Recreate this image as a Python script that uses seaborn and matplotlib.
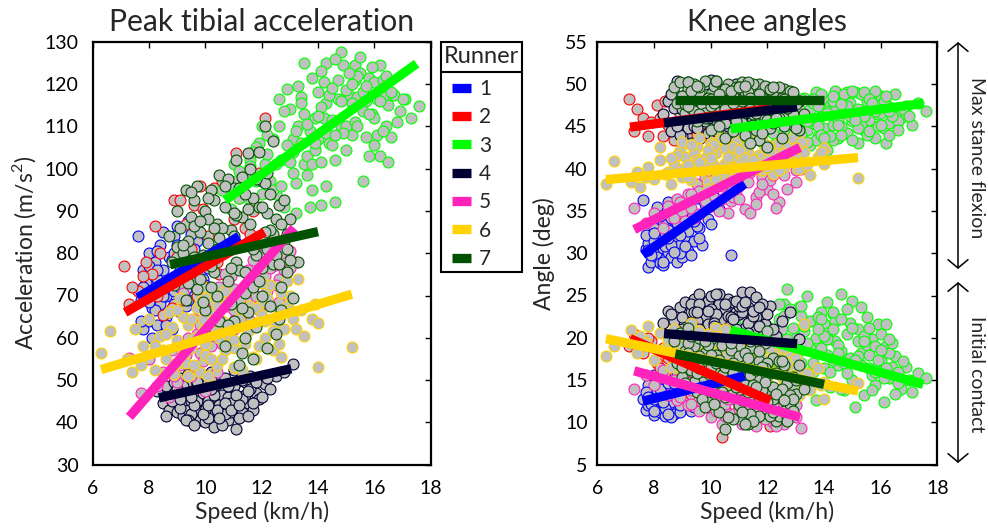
import matplotlib
matplotlib.use("Agg")
import matplotlib.pyplot as plt
import pandas as pd
import seaborn as sns
from matplotlib.lines import Line2D
from matplotlib.patches import Rectangle, FancyArrowPatch, ArrowStyle

# ---- runners ----
runner_ids = [1, 2, 3, 4, 5, 6, 7]
runner_colors = ["#0000ff", "#ff0000", "#00ff00", "#000033", "#ff22bb", "#ffd200", "#005200"]

# ---- strides: speed (km/h), peak tibial acceleration (m/s^2),
#      max stance knee flexion (deg), knee angle at initial contact (deg) ----
speed_1 = [7.6, 7.7, 7.8, 7.8, 7.9, 8.0, 8.0, 8.1, 8.1, 8.2, 8.2, 8.3, 8.3, 8.4, 8.4, 8.5, 8.5, 8.6,
           8.6, 8.7, 8.7, 8.8, 8.9, 8.9, 9.0, 9.1, 9.1, 9.2, 9.3, 9.4, 9.5, 9.6, 9.7, 9.9, 10.3, 10.7,
           7.7, 7.9, 8.0, 8.2, 8.3, 8.4, 8.5, 8.6, 8.8, 8.9, 9.0, 9.2, 9.3, 9.5, 9.8, 10.1,
           7.8, 8.0, 8.3, 8.5, 8.7, 8.9, 9.1, 9.4, 9.6, 10.0]
pta_1 = [84.0, 69.0, 76.0, 62.0, 73.0, 80.0, 64.0, 67.0, 60.0, 78.0, 71.0, 63.0, 74.0, 82.0, 68.0, 61.0, 76.0, 70.0,
         65.0, 79.0, 73.0, 62.0, 84.0, 68.0, 86.5, 75.0, 66.0, 80.0, 71.0, 87.5, 77.0, 70.0, 83.0, 74.0, 79.0, 82.0,
         64.0, 70.5, 77.0, 66.5, 80.5, 72.5, 85.0, 63.0, 78.5, 71.0, 82.0, 74.5, 67.5, 84.5, 78.0, 76.5,
         72.0, 68.5, 76.0, 70.0, 66.0, 80.0, 72.0, 69.0, 81.0, 72.5]
kmax_1 = [36.3, 30.5, 28.4, 31.2, 29.0, 33.0, 30.0, 35.5, 29.5, 31.8, 28.9, 33.8, 30.6, 29.3, 32.4, 36.0, 30.2, 34.2,
          29.6, 31.6, 33.0, 29.0, 35.0, 31.0, 29.5, 33.5, 32.0, 30.3, 34.6, 31.5, 36.5, 33.0, 31.0, 34.0, 35.2, 29.8,
          32.2, 29.8, 31.4, 34.4, 28.6, 30.8, 32.8, 31.0, 33.6, 30.0, 34.8, 32.6, 29.8, 33.2, 35.8, 36.6,
          30.4, 32.4, 29.0, 31.8, 30.2, 32.2, 30.8, 33.8, 31.8, 33.4]
kic_1 = [12.8, 11.5, 14.4, 12.0, 13.2, 10.9, 15.6, 12.6, 13.8, 11.2, 14.9, 12.3, 13.5, 10.8, 15.2, 12.9, 11.6, 14.0,
         12.4, 13.1, 11.0, 15.6, 12.7, 14.3, 11.8, 13.6, 15.9, 12.2, 14.7, 13.0, 16.2, 12.5, 14.5, 13.3, 15.0, 14.2,
         13.6, 12.2, 11.4, 13.9, 15.4, 11.7, 14.6, 10.6, 13.4, 11.2, 14.8, 13.1, 11.3, 12.0, 15.4, 13.8,
         13.0, 12.8, 12.4, 11.0, 14.6, 12.0, 14.0, 11.8, 13.6, 12.4]

speed_2 = [7.1, 7.3, 7.6, 7.9, 8.1, 8.2, 8.3, 8.5, 8.7, 8.9, 9.0, 9.1, 9.2, 9.4, 9.5,
           9.6, 9.7, 9.8, 10.0, 10.1, 10.3, 10.4, 10.6, 10.8, 11.0, 11.1, 11.4, 11.7, 12.0, 12.1,
           7.4, 7.8, 8.4, 8.8, 9.3, 9.9, 10.5, 11.2, 11.6, 11.9]
pta_2 = [77.0, 68.0, 71.0, 78.0, 75.0, 86.5, 70.0, 65.5, 73.0, 92.5, 79.0, 92.5, 69.0, 74.0, 81.0,
         91.5, 70.0, 95.8, 72.0, 84.0, 95.5, 78.0, 97.0, 82.0, 88.0, 103.7, 86.0, 90.0, 80.0, 112.0,
         72.0, 74.5, 80.0, 67.0, 87.0, 90.5, 75.0, 93.0, 84.5, 99.0]
kmax_2 = [48.2, 44.5, 46.0, 45.5, 47.5, 46.0, 43.8, 45.2, 43.4, 46.5, 44.6, 47.2, 43.6, 45.8, 44.0,
          46.8, 44.4, 45.4, 43.2, 46.2, 45.0, 47.6, 44.8, 46.0, 45.6, 47.8, 46.4, 47.0, 45.8, 48.0,
          47.0, 43.8, 48.0, 45.0, 46.8, 44.2, 46.4, 44.6, 48.2, 47.2]
kic_2 = [19.0, 20.5, 18.2, 19.6, 17.0, 16.4, 18.8, 17.6, 17.5, 15.2, 18.0, 16.0, 14.8, 17.2, 15.6,
         13.8, 16.4, 15.0, 12.6, 16.2, 14.0, 8.3, 13.2, 15.0, 11.8, 13.6, 12.4, 11.0, 13.0, 9.6,
         18.6, 20.0, 16.0, 18.6, 13.4, 17.4, 11.6, 15.8, 13.8, 11.4]

speed_3 = [10.6, 10.9, 11.0, 11.2, 11.3, 11.5, 11.6, 11.8, 11.9, 12.0,
           12.1, 12.3, 12.4, 12.5, 12.6, 12.7, 12.8, 12.9, 13.0, 13.1,
           13.2, 13.3, 13.4, 13.5, 13.5, 13.6, 13.7, 13.8, 13.9, 14.0,
           14.0, 14.1, 14.2, 14.3, 14.4, 14.5, 14.6, 14.7, 14.8, 14.9,
           15.0, 15.1, 15.2, 15.3, 15.4, 15.5, 15.6, 15.7, 15.8, 15.9,
           16.0, 16.1, 16.2, 16.3, 16.5, 16.7, 16.9, 17.1, 17.3, 17.6,
           13.5, 14.8, 15.5, 15.3, 14.3, 16.2, 16.5, 13.2, 14.1, 14.6,
           13.7, 12.4, 11.2, 11.8,
           11.4, 11.7, 12.2, 12.6, 12.9, 13.0, 13.2, 13.4, 13.6, 13.8,
           13.9, 14.1, 14.2, 14.4, 14.5, 14.7, 14.9, 15.0, 15.2, 15.3,
           15.4, 15.6, 15.7, 15.9, 16.0, 16.1, 16.3, 16.4, 16.6, 16.8,
           17.0, 14.3, 13.1, 15.8, 12.0, 14.6,
           11.1, 11.6, 12.2, 12.5, 12.8, 13.1, 13.3, 13.6, 13.9, 14.1,
           14.3, 14.5, 14.8, 15.0, 15.2, 15.4, 15.6, 15.8, 16.0, 16.2,
           16.4, 16.6, 12.7, 13.4, 14.0, 14.6, 15.1, 15.7, 16.3, 13.8]
pta_3 = [95.0, 90.5, 101.0, 93.0, 99.0, 93.0, 102.0, 97.0, 106.0, 94.0,
         101.0, 97.0, 107.0, 94.0, 116.5, 102.0, 91.0, 118.9, 101.5, 107.0,
         96.5, 110.0, 106.0, 101.0, 113.0, 103.0, 109.0, 101.0, 112.0, 118.0,
         107.0, 101.5, 112.0, 115.5, 106.0, 111.5, 102.0, 116.5, 110.0, 124.5,
         110.0, 117.5, 108.0, 124.5, 117.0, 122.5, 97.0, 116.0, 121.5, 113.0,
         120.5, 108.0, 124.5, 117.0, 115.0, 117.5, 113.7, 116.5, 112.0, 114.7,
         125.0, 127.5, 126.3, 121.0, 125.0, 103.0, 101.5, 89.5, 91.5, 92.0,
         91.0, 95.0, 99.5, 105.0,
         98.0, 104.0, 103.5, 110.0, 105.5, 114.0, 109.0, 117.0, 98.5, 121.5,
         104.5, 114.5, 120.5, 117.5, 105.5, 121.0, 108.5, 118.5, 115.5, 111.0,
         122.0, 113.5, 107.5, 124.0, 112.0, 116.5, 121.0, 110.0, 118.0, 111.0,
         116.5, 96.0, 99.0, 103.0, 110.0, 126.0,
         97.0, 100.5, 108.0, 101.0, 113.5, 104.0, 119.5, 110.5, 106.0, 123.0,
         108.5, 119.0, 116.0, 104.5, 120.0, 110.0, 118.0, 113.0, 105.5, 116.0,
         122.0, 107.5, 96.0, 115.5, 112.5, 108.0, 122.5, 119.5, 109.0, 95.0]
kmax_3 = [44.2, 46.0, 43.6, 45.4, 47.0, 44.0, 45.8, 43.2, 46.6, 44.8,
          47.6, 43.0, 45.6, 48.0, 44.4, 46.4, 42.6, 47.2, 45.0, 43.6,
          46.8, 48.4, 44.6, 42.8, 47.0, 45.4, 49.0, 43.8, 46.2, 48.2,
          44.8, 42.2, 47.4, 45.2, 49.2, 43.6, 46.6, 48.6, 44.2, 47.8,
          45.6, 49.0, 43.0, 46.8, 44.6, 48.0, 45.8, 47.2, 43.6, 46.4,
          48.6, 44.8, 47.6, 45.4, 48.8, 46.0, 47.4, 45.2, 47.8, 46.8,
          45.8, 49.0, 44.0, 48.8, 43.4, 43.0, 46.4, 44.0, 46.8, 45.0,
          43.4, 46.8, 43.8, 44.6,
          46.4, 44.6, 45.4, 47.4, 44.0, 46.0, 48.2, 43.2, 47.8, 45.0,
          48.8, 46.4, 43.8, 47.0, 45.8, 48.8, 46.2, 43.4, 47.0, 45.2,
          49.0, 44.4, 47.6, 45.0, 46.6, 48.0, 44.0, 47.2, 45.6, 47.0,
          46.2, 48.0, 42.6, 49.2, 46.2, 44.0,
          45.0, 46.8, 44.2, 45.8, 47.8, 44.6, 46.2, 48.2, 44.0, 46.6,
          48.6, 45.2, 47.4, 49.2, 44.8, 46.2, 48.2, 46.8, 45.2, 48.6,
          46.2, 44.6, 47.0, 45.6, 43.6, 47.6, 45.8, 47.8, 46.8, 47.4]
kic_3 = [21.8, 19.0, 22.4, 18.2, 20.6, 23.0, 17.4, 21.0, 19.2, 23.2,
         16.8, 20.4, 22.2, 18.0, 24.0, 25.8, 16.2, 21.2, 19.4, 23.6,
         17.0, 20.8, 25.0, 14.6, 22.0, 18.6, 12.6, 20.2, 23.0, 16.4,
         21.6, 18.0, 14.2, 22.8, 19.6, 16.8, 25.2, 13.8, 20.4, 17.6,
         24.4, 11.8, 21.0, 18.2, 13.2, 22.4, 16.4, 19.8, 14.4, 21.6,
         17.2, 12.4, 19.0, 15.2, 17.8, 14.0, 16.6, 13.6, 15.8, 15.2,
         18.8, 23.4, 19.2, 23.6, 17.4, 21.6, 13.4, 22.6, 24.2, 18.4,
         20.0, 24.0, 22.0, 18.6,
         19.8, 21.8, 18.8, 22.6, 17.6, 20.0, 23.8, 19.4, 16.0, 22.4,
         18.8, 20.6, 16.0, 22.0, 19.2, 17.0, 21.8, 15.0, 19.6, 16.8,
         20.2, 18.0, 15.6, 17.4, 20.4, 15.2, 18.2, 16.6, 14.6, 17.2,
         15.0, 21.0, 18.6, 19.0, 21.4, 14.0,
         20.6, 22.8, 17.2, 21.0, 23.4, 18.4, 21.4, 17.0, 22.2, 19.8,
         23.0, 18.2, 15.8, 21.2, 17.8, 19.6, 21.2, 16.0, 18.6, 16.4,
         19.4, 16.0, 19.8, 15.8, 20.2, 22.2, 17.4, 13.8, 19.8, 21.0]

speed_4 = [8.3, 8.5, 8.6, 8.7, 8.8, 8.9, 9.0, 9.0, 9.1, 9.2,
           9.2, 9.3, 9.4, 9.4, 9.5, 9.6, 9.6, 9.7, 9.8, 9.8,
           9.9, 10.0, 10.0, 10.1, 10.2, 10.2, 10.3, 10.4, 10.4, 10.5,
           10.6, 10.6, 10.7, 10.8, 10.9, 11.0, 11.0, 11.1, 11.2, 11.3,
           11.4, 11.5, 11.6, 11.8, 11.9, 12.1, 12.3, 12.5, 12.8, 13.1,
           8.6, 8.9, 9.1, 9.3, 9.5, 9.7, 9.9, 10.0, 10.1, 10.3,
           10.5, 10.6, 10.8, 10.9, 11.1, 11.2, 11.4, 11.6, 11.7, 12.0,
           9.2, 9.6, 10.2, 10.7, 11.0, 11.3, 9.4, 10.4, 10.9, 11.5,
           9.8, 10.1, 12.2, 11.8,
           8.8, 9.0, 9.3, 9.5, 9.7, 9.9, 10.1, 10.3, 10.5, 10.7,
           10.9, 11.1, 11.3, 11.5, 11.7, 9.6, 10.2, 10.8, 11.2, 9.1]
pta_4 = [47.5, 44.5, 48.5, 43.0, 46.0, 49.5, 42.5, 45.5, 50.5, 44.0,
         41.5, 47.0, 43.0, 51.5, 45.0, 41.0, 48.0, 43.5, 46.5, 40.5,
         50.0, 40.0, 44.5, 47.5, 42.0, 52.0, 39.0, 45.5, 49.0, 41.5,
         46.5, 43.5, 50.5, 40.5, 47.5, 44.0, 52.5, 38.5, 46.0, 42.5,
         49.5, 44.5, 51.0, 47.0, 45.5, 49.0, 48.0, 51.0, 52.0, 53.8,
         41.5, 47.0, 43.5, 49.0, 42.0, 45.0, 47.0, 43.0, 41.0, 48.5,
         44.0, 39.5, 46.0, 42.5, 49.5, 41.0, 46.5, 48.0, 43.0, 46.0,
         48.5, 44.0, 50.0, 42.0, 48.5, 45.5, 40.5, 43.0, 44.5, 41.5,
         51.0, 45.0, 50.5, 49.5,
         45.0, 48.0, 40.5, 46.0, 49.5, 42.0, 44.0, 46.5, 41.0, 44.5,
         43.0, 46.5, 50.0, 47.5, 44.5, 39.5, 48.0, 48.5, 44.0, 45.5]
kmax_4 = [46.5, 48.0, 44.5, 47.2, 50.3, 45.5, 48.5, 43.8, 46.8, 49.2,
          44.8, 47.5, 45.0, 49.8, 46.2, 43.5, 48.2, 45.8, 50.0, 47.0,
          44.2, 50.5, 46.0, 48.6, 42.8, 47.4, 45.2, 49.4, 43.5, 46.6,
          48.0, 44.6, 47.8, 45.6, 49.0, 46.8, 44.0, 48.4, 46.0, 47.6,
          45.4, 49.4, 47.0, 48.2, 46.2, 47.8, 48.8, 46.4, 47.5, 48.0,
          48.8, 44.0, 47.2, 43.0, 49.6, 46.4, 48.4, 44.8, 50.0, 46.2,
          48.8, 45.0, 43.8, 47.4, 45.6, 49.8, 44.6, 46.0, 48.6, 44.8,
          50.2, 47.6, 45.8, 43.0, 49.4, 44.4, 46.8, 48.2, 50.0, 47.8,
          45.6, 43.6, 47.0, 45.2,
          45.0, 47.0, 49.0, 44.8, 47.8, 46.0, 49.2, 47.6, 45.4, 48.6,
          44.2, 46.4, 49.0, 45.2, 46.6, 46.8, 44.4, 46.2, 47.0, 48.0]
kic_4 = [21.8, 23.2, 20.0, 22.0, 19.2, 23.6, 21.0, 17.8, 24.2, 22.4,
         19.6, 23.0, 20.8, 24.6, 18.4, 25.2, 21.6, 23.8, 19.8, 22.6,
         24.4, 25.0, 20.4, 23.2, 21.4, 17.6, 24.0, 22.2, 19.0, 23.4,
         20.6, 24.6, 21.8, 18.6, 23.0, 20.2, 22.8, 25.4, 21.2, 23.6,
         25.4, 20.8, 22.4, 19.4, 21.6, 23.8, 20.2, 22.0, 23.0, 19.8,
         22.8, 20.4, 18.6, 24.0, 22.0, 20.0, 21.6, 23.4, 19.2, 25.2,
         21.0, 22.6, 24.2, 20.4, 23.0, 19.4, 22.0, 24.8, 21.4, 22.8,
         21.2, 24.0, 22.8, 20.0, 23.8, 21.8, 23.0, 20.2, 24.4, 22.6,
         17.8, 21.8, 21.0, 24.0,
         20.8, 22.4, 21.8, 23.0, 19.6, 23.2, 21.4, 20.6, 24.0, 22.4,
         21.0, 23.8, 20.6, 23.2, 23.6, 21.0, 25.2, 22.2, 24.2, 19.4]

speed_5 = [7.3, 7.7, 8.0, 8.3, 8.5, 8.7, 8.8, 9.0, 9.1, 9.2, 9.3, 9.5, 9.6, 9.7, 9.8, 10.0, 10.1, 10.2,
           10.4, 10.5, 10.6, 10.8, 10.9, 11.0, 11.2, 11.3, 11.5, 11.6, 11.8, 12.0, 12.2, 12.4, 12.6, 12.8, 13.0, 13.2,
           8.9, 9.4, 9.6, 9.9, 10.3, 10.5, 10.7, 11.0, 11.1, 11.4, 11.7, 11.9, 12.1, 12.3, 12.5, 12.7,
           10.0, 10.8, 11.6, 12.2,
           9.3, 9.8, 10.2, 10.6, 11.0, 11.4, 11.8, 12.2, 12.6, 13.0, 10.4, 11.6]
pta_5 = [55.3, 47.0, 55.0, 48.5, 52.0, 46.0, 57.0, 49.5, 53.5, 70.5, 58.0, 51.0, 73.0, 61.0, 56.5, 66.0, 59.0, 70.0,
         63.5, 72.0, 58.5, 67.5, 74.5, 62.0, 70.5, 66.0, 76.0, 69.0, 73.5, 79.5, 71.0, 77.0, 74.0, 76.0, 80.5, 78.0,
         51.0, 60.0, 64.5, 54.5, 68.5, 62.0, 75.0, 71.5, 65.0, 72.0, 78.5, 66.5, 74.5, 76.5, 72.5, 80.0,
         47.5, 60.5, 62.5, 69.0,
         56.0, 63.0, 58.0, 69.0, 66.5, 75.5, 70.0, 78.0, 68.5, 76.5, 52.0, 64.0]
kmax_5 = [35.3, 33.6, 34.8, 33.0, 35.6, 34.2, 36.4, 35.0, 33.8, 37.0, 35.4, 38.2, 34.6, 36.8, 39.0, 35.6, 37.8, 40.0,
          36.4, 38.6, 34.8, 39.4, 37.0, 41.0, 35.2, 38.4, 40.2, 36.6, 39.0, 37.6, 40.6, 36.0, 39.2, 41.4, 38.4, 40.0,
          36.0, 34.2, 37.4, 38.4, 35.0, 40.6, 36.2, 38.0, 39.8, 34.8, 37.2, 40.8, 38.6, 35.4, 41.6, 37.6,
          39.6, 36.6, 41.2, 39.2,
          37.0, 36.2, 39.0, 37.6, 36.4, 39.6, 38.2, 37.0, 40.8, 39.8, 38.0, 35.8]
kic_5 = [13.9, 15.6, 14.4, 16.2, 13.2, 15.0, 12.6, 14.6, 16.0, 12.0, 13.8, 15.2, 11.4, 13.6, 14.8, 10.6, 12.8, 14.2,
         9.8, 12.2, 13.8, 11.0, 12.6, 14.0, 10.2, 11.8, 13.0, 9.6, 11.4, 12.8, 10.0, 11.6, 9.8, 12.2, 10.6, 9.3,
         13.0, 14.2, 12.6, 11.8, 15.0, 10.8, 13.4, 11.6, 9.8, 14.4, 12.4, 10.4, 13.6, 9.6, 12.4, 10.6,
         13.2, 14.6, 11.2, 12.0,
         12.2, 13.4, 11.4, 12.8, 10.4, 11.0, 13.4, 11.0, 10.8, 12.0, 14.0, 10.6]

speed_6 = [6.3, 6.6, 7.2, 7.4, 7.5, 7.8, 8.0, 8.2, 8.4, 8.6,
           8.7, 8.9, 9.0, 9.1, 9.3, 9.4, 9.5, 9.7, 9.8, 9.9,
           10.0, 10.1, 10.2, 10.4, 10.5, 10.6, 10.7, 10.9, 11.0, 11.1,
           11.3, 11.4, 11.5, 11.7, 11.8, 12.0, 12.1, 12.3, 12.4, 12.6,
           12.8, 13.0, 13.1, 13.3, 13.5, 13.8, 14.0, 14.0, 15.2, 12.9,
           8.5, 8.8, 9.0, 9.2, 9.4, 9.6, 9.8, 10.0, 10.2, 10.3,
           10.5, 10.8, 11.0, 11.2, 11.3, 11.6, 11.9, 12.2, 12.5, 12.7,
           12.9, 13.2, 9.5, 10.1, 10.7, 11.4, 12.0, 12.6, 13.4, 8.2,
           7.7, 9.9, 11.8, 13.9,
           8.6, 9.0, 9.3, 9.6, 9.9, 10.2, 10.4, 10.6, 10.9, 11.2,
           11.5, 11.8, 12.1, 12.4, 12.7, 13.0, 9.2, 10.0, 11.0, 12.0]
pta_6 = [56.5, 61.5, 55.0, 52.0, 62.0, 58.0, 64.5, 52.5, 60.5, 55.0,
         66.0, 51.5, 59.5, 69.5, 54.0, 63.0, 57.5, 67.0, 52.0, 61.5,
         56.0, 65.5, 70.5, 53.5, 60.0, 64.0, 57.0, 68.0, 53.0, 62.5,
         66.5, 58.5, 71.5, 55.5, 63.5, 68.5, 60.0, 72.5, 57.0, 66.0,
         62.0, 70.0, 64.5, 74.0, 60.5, 64.5, 63.5, 53.2, 57.8, 73.5,
         57.0, 62.5, 54.0, 65.0, 51.0, 60.0, 68.5, 58.5, 55.0, 66.0,
         70.0, 61.0, 57.5, 64.5, 52.5, 67.5, 58.0, 69.5, 63.5, 55.5,
         67.5, 62.0, 64.5, 51.0, 71.0, 60.0, 73.0, 58.5, 66.5, 58.0,
         53.5, 72.0, 55.0, 68.0,
         61.0, 66.5, 58.0, 53.5, 64.5, 61.5, 67.5, 55.0, 63.5, 69.0,
         61.5, 67.0, 64.0, 61.5, 70.5, 66.5, 56.5, 69.5, 59.5, 65.5]
kmax_6 = [38.2, 40.9, 38.4, 39.6, 37.8, 40.2, 38.8, 41.0, 39.4, 38.2,
          40.6, 42.2, 39.0, 41.4, 38.6, 40.0, 42.6, 39.8, 41.2, 38.4,
          43.0, 40.4, 41.8, 39.2, 42.4, 40.8, 38.8, 43.2, 41.0, 39.6,
          42.0, 40.4, 43.4, 41.6, 39.8, 42.8, 40.6, 41.8, 43.0, 40.2,
          42.2, 41.2, 40.0, 42.0, 39.2, 41.4, 40.6, 42.4, 38.9, 43.6,
          39.6, 41.6, 43.2, 39.0, 41.8, 43.6, 40.4, 42.0, 38.8, 43.4,
          40.6, 42.6, 39.4, 41.2, 43.8, 40.0, 42.4, 39.4, 41.0, 42.6,
          40.8, 43.2, 41.0, 42.8, 41.4, 43.0, 40.2, 41.8, 40.4, 42.6,
          39.0, 37.6, 41.4, 42.0,
          41.2, 40.0, 42.8, 40.8, 42.2, 39.8, 43.6, 41.4, 40.0, 42.6,
          41.0, 43.4, 42.0, 39.8, 40.8, 42.4, 40.4, 41.2, 42.2, 41.0]
kic_6 = [17.8, 19.0, 20.9, 18.2, 20.2, 21.4, 17.4, 20.6, 18.8, 16.6,
         21.0, 19.4, 15.8, 18.0, 21.8, 16.8, 19.6, 14.8, 18.4, 20.4,
         16.0, 17.6, 21.2, 15.4, 19.0, 16.4, 18.8, 14.6, 20.0, 17.0,
         15.6, 18.6, 13.8, 16.6, 19.2, 15.0, 17.4, 13.6, 16.2, 14.4,
         18.0, 15.2, 13.2, 21.6, 13.8, 16.4, 14.8, 12.8, 14.6, 16.8,
         19.8, 17.2, 20.6, 18.6, 16.2, 20.8, 17.6, 19.2, 15.0, 18.2,
         21.0, 17.0, 15.2, 19.8, 17.6, 14.2, 16.8, 18.4, 15.4, 17.0,
         14.2, 16.0, 13.6, 19.6, 14.4, 20.0, 16.4, 18.8, 15.8, 18.4,
         19.4, 13.6, 17.6, 14.4,
         18.2, 19.2, 17.0, 19.4, 16.6, 20.2, 17.2, 18.0, 16.2, 18.6,
         16.0, 15.8, 18.8, 17.4, 15.0, 17.6, 20.4, 17.8, 19.0, 16.2]

speed_7 = [8.7, 8.8, 8.9, 9.0, 9.1, 9.2, 9.3, 9.4, 9.5, 9.5,
           9.6, 9.7, 9.8, 9.9, 10.0, 10.0, 10.1, 10.2, 10.3, 10.4,
           10.4, 10.5, 10.6, 10.7, 10.7, 10.8, 10.9, 11.0, 11.0, 11.1,
           11.2, 11.3, 11.3, 11.4, 11.5, 11.6, 11.7, 11.7, 11.8, 11.9,
           12.0, 12.1, 12.2, 12.2, 12.3, 12.4, 12.5, 12.6, 12.7, 12.8,
           12.9, 13.0, 13.1, 13.3, 12.0, 11.4,
           9.0, 9.2, 9.4, 9.6, 9.7, 9.9, 10.1, 10.2, 10.3, 10.5,
           10.6, 10.8, 10.9, 11.1, 11.2, 11.4, 11.5, 11.6, 11.8, 11.9,
           12.0, 12.1, 12.3, 12.4, 12.5, 12.6, 12.8, 12.9, 13.0, 9.3,
           9.8, 10.4, 11.0, 11.7, 12.2, 12.7, 10.0, 11.3, 12.4, 9.1,
           9.2, 9.5, 9.8, 10.0, 10.2, 10.5, 10.7, 10.9, 11.1, 11.3,
           11.5, 11.7, 11.9, 12.1, 12.3, 12.5, 12.7, 12.9, 11.0, 11.6,
           12.0, 10.3, 10.8, 11.2, 11.8, 12.6, 9.6, 10.1, 11.4, 12.2]
pta_7 = [84.0, 78.0, 72.5, 81.5, 86.0, 75.0, 69.0, 83.0, 88.5, 77.5,
         92.5, 71.5, 85.0, 79.5, 90.0, 66.5, 82.5, 95.0, 75.5, 87.0,
         70.0, 98.5, 80.5, 58.0, 91.0, 73.5, 85.5, 64.0, 95.5, 78.0,
         53.5, 98.0, 88.5, 70.5, 103.8, 82.0, 55.0, 93.0, 62.5, 104.0,
         76.5, 110.0, 57.5, 89.5, 67.5, 84.5, 61.0, 91.5, 72.0, 83.0,
         75.5, 88.0, 69.5, 78.0, 97.0, 60.0,
         90.0, 80.0, 73.0, 86.5, 96.0, 68.5, 88.0, 77.0, 92.5, 64.0,
         86.0, 97.5, 68.0, 89.0, 76.0, 94.0, 66.0, 100.0, 79.5, 91.0,
         70.0, 96.5, 85.5, 77.5, 88.0, 64.5, 92.5, 81.0, 78.5, 95.0,
         74.0, 81.0, 84.0, 72.0, 99.0, 87.0, 61.0, 56.5, 106.5, 76.0,
         82.0, 94.5, 87.5, 79.0, 72.0, 83.5, 96.0, 76.5, 102.0, 67.0,
         90.5, 81.0, 73.5, 85.0, 94.0, 79.5, 66.5, 84.5, 89.5, 87.0,
         91.0, 86.0, 63.0, 95.5, 97.5, 77.5, 79.0, 93.0, 75.5, 81.0]
kmax_7 = [49.6, 47.8, 50.2, 48.6, 46.6, 49.4, 47.2, 50.0, 48.2, 45.6,
          49.0, 47.0, 50.4, 46.2, 48.8, 44.6, 49.8, 47.4, 45.0, 49.2,
          47.8, 43.6, 50.0, 46.4, 48.4, 44.4, 49.6, 45.8, 47.6, 50.2,
          44.0, 48.6, 46.8, 49.4, 45.2, 47.8, 50.0, 43.4, 48.8, 46.0,
          49.6, 44.8, 47.2, 49.0, 45.6, 48.0, 43.6, 49.4, 46.6, 48.4,
          45.2, 47.6, 44.6, 46.4, 42.6, 43.0,
          48.6, 50.2, 46.8, 49.6, 47.6, 48.4, 46.2, 50.4, 48.0, 49.4,
          46.8, 48.6, 47.2, 45.4, 49.0, 47.0, 50.0, 44.6, 48.4, 49.8,
          45.8, 48.0, 46.6, 49.6, 47.6, 45.0, 49.2, 46.4, 44.8, 49.2,
          46.6, 48.0, 49.6, 48.2, 45.4, 47.2, 47.4, 49.0, 46.0, 47.6,
          47.4, 49.8, 46.0, 48.2, 50.4, 47.0, 49.2, 45.6, 48.0, 50.2,
          46.4, 48.8, 47.6, 49.4, 46.0, 48.4, 47.2, 49.0, 49.6, 46.6,
          47.6, 48.8, 47.8, 49.8, 44.2, 48.2, 46.4, 47.8, 48.4, 49.6]
kic_7 = [19.6, 17.0, 20.6, 15.4, 18.4, 21.2, 16.2, 19.0, 13.6, 17.6,
         20.0, 14.8, 18.2, 12.4, 16.6, 19.8, 14.0, 17.4, 11.2, 15.6,
         19.2, 9.2, 16.8, 13.2, 18.6, 10.4, 15.0, 17.8, 12.0, 20.4,
         14.4, 9.8, 16.4, 18.8, 12.8, 15.2, 10.8, 17.2, 13.8, 19.4,
         11.6, 15.8, 14.2, 17.6, 10.2, 13.0, 16.0, 11.4, 14.6, 12.2,
         15.4, 13.4, 16.8, 14.0, 20.8, 11.0,
         16.6, 19.4, 14.8, 17.8, 12.8, 19.2, 15.2, 18.0, 13.6, 16.6,
         10.6, 17.0, 14.2, 12.6, 18.2, 15.6, 10.2, 16.2, 12.2, 14.8,
         17.0, 12.6, 15.8, 10.8, 14.0, 16.8, 13.2, 11.4, 15.0, 20.2,
         11.8, 13.6, 15.6, 18.4, 12.8, 10.6, 18.0, 13.6, 17.2, 14.6,
         18.2, 15.8, 19.6, 14.0, 17.0, 13.0, 19.4, 15.6, 11.2, 17.6,
         14.4, 13.0, 16.4, 10.8, 13.4, 17.2, 10.2, 12.8, 16.2, 14.2,
         12.4, 17.4, 15.8, 9.8, 16.6, 12.6, 16.4, 12.2, 19.6, 11.2]

# ---- per-runner linear fits: speed range and fitted values at both ends ----
fit_speed_lo = [7.6, 7.15, 10.7, 8.35, 7.3, 6.3, 8.75]
fit_speed_hi = [11.2, 12.1, 17.5, 13.05, 13.15, 15.2, 14.0]
pta_fit_lo = [69.5, 66.0, 92.5, 45.8, 41.3, 52.5, 77.3]
pta_fit_hi = [84.0, 85.0, 124.8, 52.7, 86.0, 70.3, 85.1]
kmax_fit_lo = [29.8, 44.9, 44.7, 45.4, 32.8, 38.7, 48.1]
kmax_fit_hi = [38.2, 47.1, 47.7, 47.3, 42.5, 41.3, 48.1]
kic_fit_lo = [12.5, 19.9, 20.9, 20.5, 16.1, 19.9, 18.1]
kic_fit_hi = [15.5, 12.55, 14.5, 19.3, 10.6, 13.7, 14.5]

speeds = [speed_1, speed_2, speed_3, speed_4, speed_5, speed_6, speed_7]
ptas = [pta_1, pta_2, pta_3, pta_4, pta_5, pta_6, pta_7]
kmaxs = [kmax_1, kmax_2, kmax_3, kmax_4, kmax_5, kmax_6, kmax_7]
kics = [kic_1, kic_2, kic_3, kic_4, kic_5, kic_6, kic_7]

strides = pd.concat(
    [pd.DataFrame({"runner": rid, "speed": s, "pta": p, "kmax": km, "kic": ki})
     for rid, s, p, km, ki in zip(runner_ids, speeds, ptas, kmaxs, kics)],
    ignore_index=True)
fits = pd.DataFrame({"runner": runner_ids, "lo": fit_speed_lo, "hi": fit_speed_hi,
                     "pta_lo": pta_fit_lo, "pta_hi": pta_fit_hi,
                     "kmax_lo": kmax_fit_lo, "kmax_hi": kmax_fit_hi,
                     "kic_lo": kic_fit_lo, "kic_hi": kic_fit_hi})

# ---- style ----
sns.set_style("white")
plt.rcParams["font.family"] = ["Lato", "DejaVu Sans"]
plt.rcParams["mathtext.fontset"] = "custom"
plt.rcParams["mathtext.rm"] = "Lato"
plt.rcParams["axes.linewidth"] = 1.6
plt.rcParams["axes.edgecolor"] = "black"

W, H = 988, 530
fig = plt.figure(figsize=(W / 100, H / 100), dpi=100)
ax1 = fig.add_axes([92.7 / W, 1 - 464.7 / H, 338 / W, 423 / H])
ax2 = fig.add_axes([597.4 / W, 1 - 464.7 / H, 340 / W, 423 / H])

GRAY = "#c0c0c0"
MS = 62
LW_FIT = 6.7


def draw_runner(ax, col_y, rid, color):
    sub = strides[strides["runner"] == rid]
    sns.scatterplot(data=sub, x="speed", y=col_y, ax=ax, color=GRAY, edgecolor=color,
                    s=MS, linewidth=0.8, legend=False, zorder=2)


def draw_fit(ax, col, rid, color):
    f = fits[fits["runner"] == rid].iloc[0]
    sns.lineplot(x=[f["lo"], f["hi"]], y=[f[col + "_lo"], f[col + "_hi"]], ax=ax,
                 color=color, lw=LW_FIT, solid_capstyle="butt", legend=False, zorder=3)


for rid, color in zip(runner_ids, runner_colors):
    draw_runner(ax1, "pta", rid, color)
    draw_runner(ax2, "kmax", rid, color)
    draw_runner(ax2, "kic", rid, color)
for rid, color in zip(runner_ids, runner_colors):
    draw_fit(ax1, "pta", rid, color)
    draw_fit(ax2, "kmax", rid, color)
    draw_fit(ax2, "kic", rid, color)

for ax in (ax1, ax2):
    ax.set_xlim(6, 18)
    ax.set_xticks(range(6, 19, 2))
    ax.tick_params(direction="in", top=True, right=True, length=4.5, width=1.0,
                   labelsize=14, colors="black")
    ax.tick_params(axis="x", pad=11)
    ax.set_xlabel("Speed (km/h)", fontsize=16.5, labelpad=3)
    for sp in ax.spines.values():
        sp.set_visible(True)
        sp.set_linewidth(1.6)

ax1.set_ylim(30, 130)
ax1.set_yticks(range(30, 131, 10))
ax1.tick_params(axis="y", pad=10)
ax1.set_ylabel("Acceleration (m/s$^\\mathregular{2}$)", fontsize=16.5, labelpad=5)
ax1.set_title("Peak tibial acceleration", fontsize=21.7, pad=8)

ax2.set_ylim(5, 55)
ax2.set_yticks(range(5, 56, 5))
ax2.tick_params(axis="y", pad=7)
ax2.set_ylabel("Angle (deg)", fontsize=16.5, labelpad=7)
ax2.set_title("Knee angles", fontsize=21.7, pad=8)

# ---- legend: header box + entries ----
def fx(px):
    return px / W


def fy(py):
    return 1 - py / H


fig.add_artist(Rectangle((fx(441), fy(271.7)), fx(522) - fx(441), fy(41.7) - fy(271.7),
                         transform=fig.transFigure, fill=False, edgecolor="black", lw=1.5))
fig.add_artist(Line2D([fx(441), fx(522)], [fy(71.7), fy(71.7)], transform=fig.transFigure,
                      color="black", lw=1.5))
fig.text(fx(481.5), fy(56.7), "Runner", ha="center", va="center", fontsize=17)

handles = [Line2D([0], [0], color=c, lw=LW_FIT, solid_capstyle="butt") for c in runner_colors]
fig.legend(handles, [str(r) for r in runner_ids], loc="upper left",
           bbox_to_anchor=(fx(451.7), fy(79)), frameon=False, borderpad=0, borderaxespad=0,
           handlelength=0.92, handletextpad=0.4, labelspacing=0.4, fontsize=15)

# ---- phase annotations on the right ----
arrow_style = ArrowStyle("<->", head_length=0.6, head_width=0.72)
for y0, y1, label, yc in [(42, 269, "Max stance flexion", 158), (282, 463, "Initial contact", 374)]:
    fig.add_artist(FancyArrowPatch((fx(958), fy(y0)), (fx(958), fy(y1)), transform=fig.transFigure,
                                   arrowstyle=arrow_style, mutation_scale=10, lw=1.1,
                                   color="black", shrinkA=0, shrinkB=0))
    fig.text(fx(976), fy(yc), label, rotation=270, ha="center", va="center", fontsize=14)

fig.savefig("out.png", dpi=100)
